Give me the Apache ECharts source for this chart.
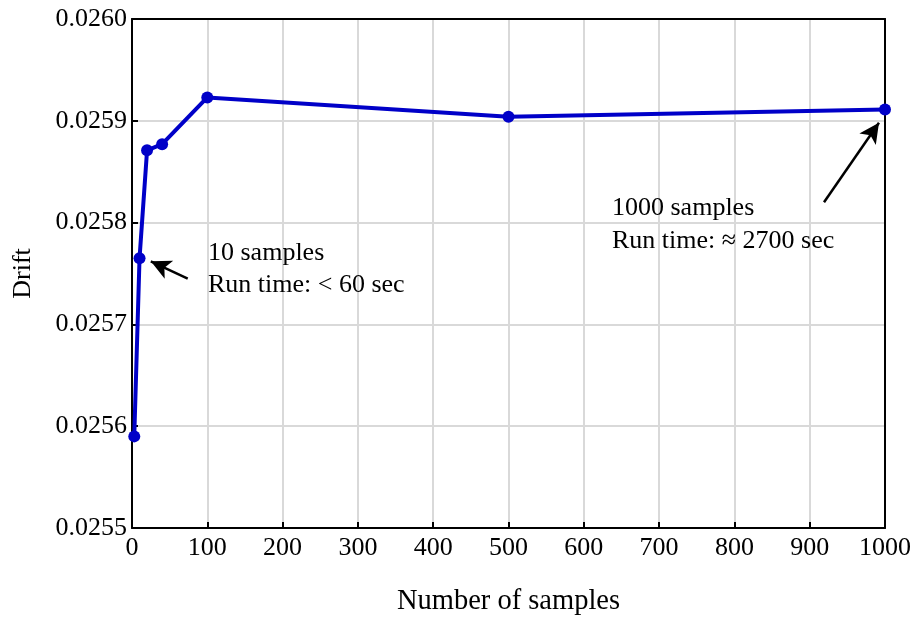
<!DOCTYPE html>
<html>
<head>
<meta charset="utf-8">
<script src="https://cdn.jsdelivr.net/npm/echarts@6/dist/echarts.min.js"></script>
<style>
  html, body { margin: 0; padding: 0; background: #fff; }
  #chart { width: 917px; height: 618px; }
</style>
</head>
<body>
<div id="chart"></div>
<script>
// Drift versus number of samples
const sampleCounts = [3, 10, 20, 40, 100, 500, 1000];
const driftValues = [0.025590, 0.025765, 0.025871, 0.025877, 0.025923, 0.025904, 0.025911];

// Annotation arrows: [tail, head] in data coordinates
const arrowTen = [[74, 0.025745], [25, 0.025762]];
const arrowThousand = [[919, 0.025820], [992, 0.025898]];

const FONT = '"Liberation Serif", "Times New Roman", serif';

const chart = echarts.init(document.getElementById('chart'), null, { renderer: 'canvas' });

const frameAxis = {
  show: true,
  axisLine: { show: true, onZero: false, lineStyle: { color: '#000', width: 2 } },
  axisTick: { show: false },
  axisLabel: { show: false },
  splitLine: { show: false }
};

chart.setOption({
  backgroundColor: '#ffffff',
  animation: false,
  grid: {
    left: 132, right: 32, top: 19, bottom: 90,
    outerBoundsMode: 'none',
    containLabel: false
  },
  xAxis: [
    {
      type: 'value', min: 0, max: 1000, interval: 100,
      name: 'Number of samples', nameLocation: 'middle', nameGap: 59,
      nameTextStyle: { fontFamily: FONT, fontSize: 28.5, color: '#000' },
      axisLine: { show: true, onZero: false, lineStyle: { color: '#000', width: 2 } },
      axisTick: { show: true, inside: true, length: 6, lineStyle: { color: '#000', width: 2 } },
      axisLabel: { fontFamily: FONT, fontSize: 26, color: '#000', margin: 7, formatter: v => String(v) },
      splitLine: { show: true, lineStyle: { color: '#d9d9d9', width: 2 } }
    },
    Object.assign({ type: 'value', position: 'top', min: 0, max: 1000 }, frameAxis)
  ],
  yAxis: [
    {
      type: 'value', min: 0.0255, max: 0.026, interval: 0.0001,
      name: 'Drift', nameLocation: 'middle', nameGap: 96,
      nameTextStyle: { fontFamily: FONT, fontSize: 26, color: '#000' },
      axisLine: { show: true, onZero: false, lineStyle: { color: '#000', width: 2 } },
      axisTick: { show: true, inside: true, length: 6, lineStyle: { color: '#000', width: 2 } },
      axisLabel: {
        fontFamily: FONT, fontSize: 26, color: '#000', margin: 5,
        formatter: v => v.toFixed(4)
      },
      splitLine: { show: true, lineStyle: { color: '#d9d9d9', width: 2 } }
    },
    Object.assign({ type: 'value', position: 'right', min: 0.0255, max: 0.026 }, frameAxis)
  ],
  series: [
    {
      type: 'line',
      xAxisIndex: 0, yAxisIndex: 0,
      data: sampleCounts.map((n, i) => [n, driftValues[i]]),
      symbol: 'circle', symbolSize: 12,
      lineStyle: { color: '#0000c8', width: 4 },
      itemStyle: { color: '#0000c8' },
      z: 5,
      markLine: {
        silent: true,
        symbol: ['none', 'arrow'],
        symbolSize: [15, 20],
        lineStyle: { color: '#000', width: 2.5, type: 'solid' },
        label: { show: false },
        data: [
          [{ coord: arrowTen[0] }, { coord: arrowTen[1] }],
          [{ coord: arrowThousand[0] }, { coord: arrowThousand[1] }]
        ]
      }
    }
  ],
  graphic: [
    { type: 'text', z: 10, left: 208, top: 240, style: { text: '10 samples', font: '26px ' + FONT, fill: '#000' } },
    { type: 'text', z: 10, left: 208, top: 272, style: { text: 'Run time: < 60 sec', font: '26px ' + FONT, fill: '#000' } },
    { type: 'text', z: 10, left: 612, top: 195, style: { text: '1000 samples', font: '26px ' + FONT, fill: '#000' } },
    { type: 'text', z: 10, left: 612, top: 228, style: { text: 'Run time: \u2248 2700 sec', font: '26px ' + FONT, fill: '#000' } }
  ]
});
</script>
</body>
</html>
